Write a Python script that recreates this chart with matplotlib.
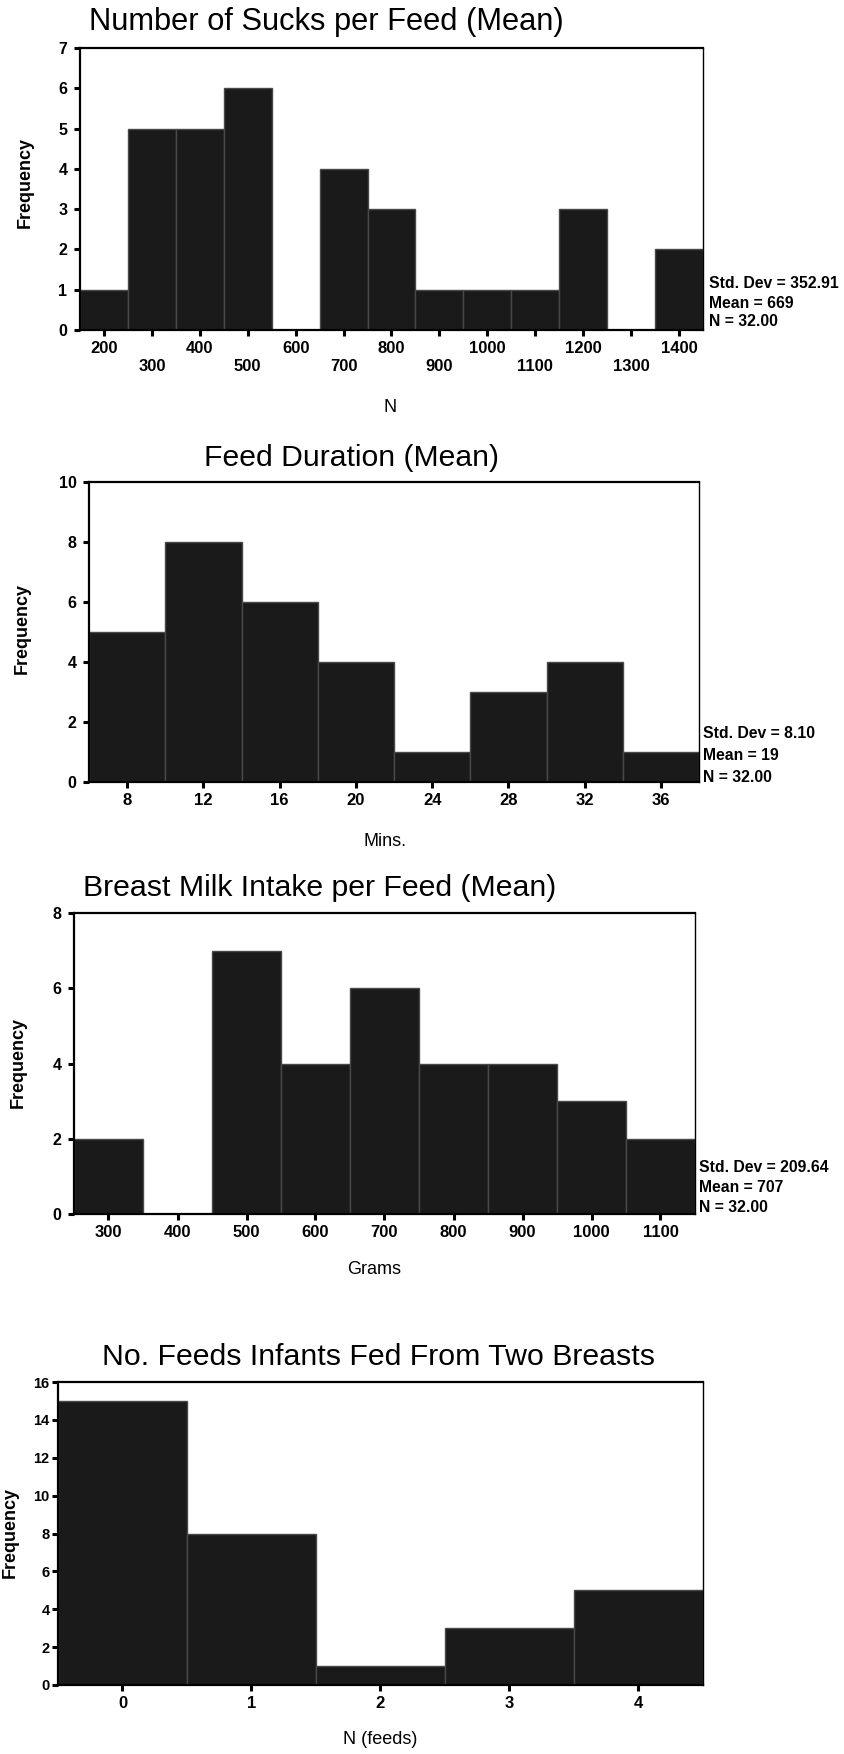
import matplotlib
matplotlib.use("Agg")
import matplotlib.pyplot as plt

plt.rcParams['font.family'] = ['Liberation Sans', 'DejaVu Sans']

W, H = 845, 1754

# ---- data -------------------------------------------------------------
sucks_centers = [200, 300, 400, 500, 600, 700, 800, 900, 1000, 1100, 1200, 1300, 1400]
sucks_freq = [1, 5, 5, 6, 0, 4, 3, 1, 1, 1, 3, 0, 2]
sucks_stats = ["Std. Dev = 352.91", "Mean = 669", "N = 32.00"]

duration_centers = [8, 12, 16, 20, 24, 28, 32, 36]
duration_freq = [5, 8, 6, 4, 1, 3, 4, 1]
duration_stats = ["Std. Dev = 8.10", "Mean = 19", "N = 32.00"]

milk_centers = [300, 400, 500, 600, 700, 800, 900, 1000, 1100]
milk_freq = [2, 0, 7, 4, 6, 4, 4, 3, 2]
milk_stats = ["Std. Dev = 209.64", "Mean = 707", "N = 32.00"]

feeds_centers = [0, 1, 2, 3, 4]
feeds_freq = [15, 8, 1, 3, 5]

BAR_FACE = "#1a1a1a"
BAR_EDGE = "#484848"

fig = plt.figure(figsize=(W / 100, H / 100), dpi=100)
fig.patch.set_facecolor("white")


def px_axes(left, top, right, bottom):
    return fig.add_axes([left / W, 1 - bottom / H, (right - left) / W, (bottom - top) / H])


def px_text(x, y, s, **kw):
    fig.text(x / W, 1 - y / H, s, **kw)


def style_axes(ax, ytick_size=11.5, xtick_size=12):
    for side in ("left", "top", "bottom"):
        ax.spines[side].set_linewidth(1.6)
    ax.spines["right"].set_linewidth(1.0)
    ax.tick_params(axis="y", direction="out", length=4, width=2.2, pad=5,
                   labelsize=ytick_size)
    ax.tick_params(axis="x", direction="out", length=4, width=2.2, pad=4,
                   labelsize=xtick_size)
    for lbl in ax.get_xticklabels() + ax.get_yticklabels():
        lbl.set_fontweight("bold")


def histogram(ax, centers, freq, width):
    ax.bar(centers, freq, width=width, color=BAR_FACE, edgecolor=BAR_EDGE,
           linewidth=1.0, zorder=2)


def stats_block(x, ys, lines):
    for y, s in zip(ys, lines):
        px_text(x, y, s, fontsize=11.3, fontweight="bold", ha="left", va="center")


# ---- Number of sucks per feed -----------------------------------------
ax1 = px_axes(80, 48, 703, 330)
histogram(ax1, sucks_centers, sucks_freq, 100)
ax1.set_xlim(150, 1450)
ax1.set_ylim(0, 7)
ax1.set_yticks(range(0, 8))
ax1.set_xticks(sucks_centers)
ax1.set_xticklabels([str(c) if i % 2 == 0 else "\n" + str(c)
                     for i, c in enumerate(sucks_centers)], linespacing=1.25)
style_axes(ax1)
px_text(89, 22, "Number of Sucks per Feed (Mean)", fontsize=22.2, va="center", ha="left")
px_text(25, 182, "Frequency", fontsize=13, fontweight="bold", rotation=90,
        ha="center", va="center")
px_text(390, 408, "N", fontsize=13, ha="center", va="center")
stats_block(709, [283, 303, 322], sucks_stats)

# ---- Feed duration -----------------------------------------------------
ax2 = px_axes(89, 482, 699, 782)
histogram(ax2, duration_centers, duration_freq, 4)
ax2.set_xlim(6, 38)
ax2.set_ylim(0, 10)
ax2.set_yticks(range(0, 11, 2))
ax2.set_xticks(duration_centers)
style_axes(ax2)
px_text(351, 458, "Feed Duration (Mean)", fontsize=21.7, va="center", ha="center")
px_text(22, 628, "Frequency", fontsize=13, fontweight="bold", rotation=90,
        ha="center", va="center")
px_text(385, 842, "Mins.", fontsize=13, ha="center", va="center")
stats_block(703, [734, 755, 777], duration_stats)

# ---- Breast milk intake per feed --------------------------------------
ax3 = px_axes(74, 913, 695, 1214)
histogram(ax3, milk_centers, milk_freq, 100)
ax3.set_xlim(250, 1150)
ax3.set_ylim(0, 8)
ax3.set_yticks(range(0, 9, 2))
ax3.set_xticks(milk_centers)
style_axes(ax3)
px_text(320, 888, "Breast Milk Intake per Feed (Mean)", fontsize=21.8, va="center",
        ha="center")
px_text(18, 1062, "Frequency", fontsize=13, fontweight="bold", rotation=90,
        ha="center", va="center")
px_text(374, 1270, "Grams", fontsize=13, ha="center", va="center")
stats_block(699, [1167, 1187, 1207], milk_stats)

# ---- Feeds from two breasts --------------------------------------------
ax4 = px_axes(58, 1382, 703, 1685)
histogram(ax4, feeds_centers, feeds_freq, 1)
ax4.set_xlim(-0.5, 4.5)
ax4.set_ylim(0, 16)
ax4.set_yticks(range(0, 17, 2))
ax4.set_xticks(feeds_centers)
style_axes(ax4, ytick_size=10.5)
ax4.tick_params(axis="y", pad=2)
px_text(379, 1357, "No. Feeds Infants Fed From Two Breasts", fontsize=21.8,
        va="center", ha="center")
px_text(10, 1533, "Frequency", fontsize=13, fontweight="bold", rotation=90,
        ha="center", va="center")
px_text(380, 1740, "N (feeds)", fontsize=13, ha="center", va="center")

fig.savefig("out.png", dpi=100, facecolor="white")
